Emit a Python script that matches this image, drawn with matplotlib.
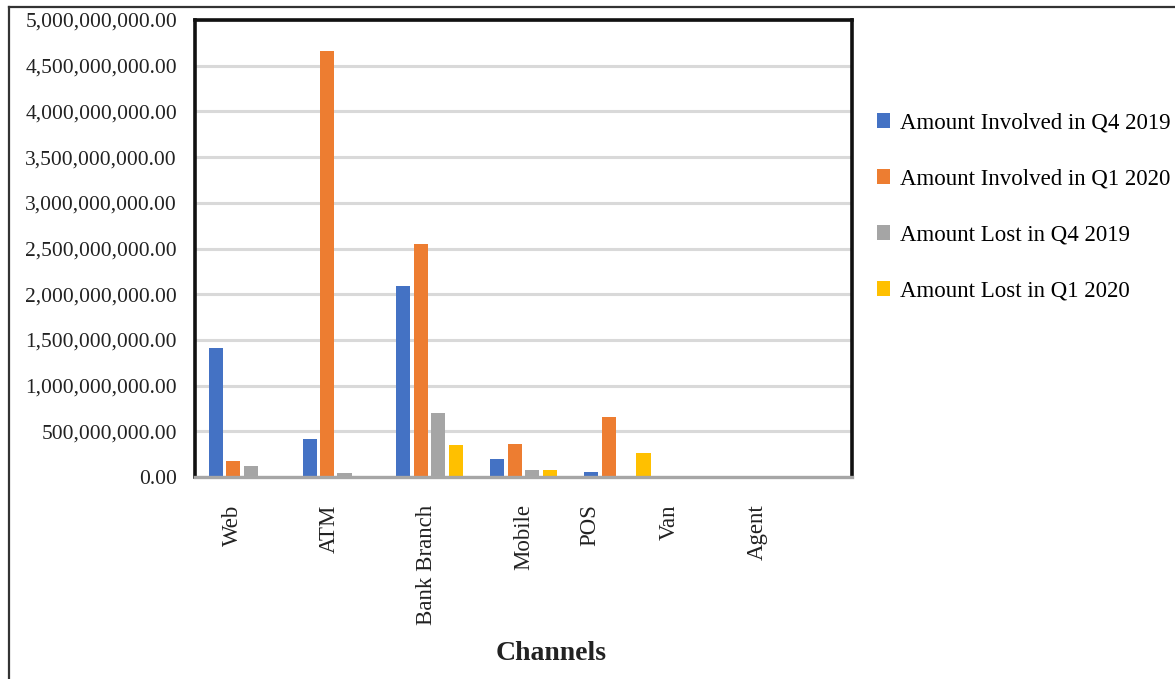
import numpy as np
import matplotlib
matplotlib.use("Agg")
import matplotlib.pyplot as plt
from matplotlib.lines import Line2D
from matplotlib.ticker import FuncFormatter, MultipleLocator

plt.rc('font', family='Liberation Serif')

channels = ["Web", "ATM", "Bank Branch", "Mobile", "POS", "Van", "Agent"]
series = [
    "Amount Involved in Q4 2019",
    "Amount Involved in Q1 2020",
    "Amount Lost in Q4 2019",
    "Amount Lost in Q1 2020",
]
involved_q4_2019 = [1.41e9, 0.415e9, 2.09e9, 0.20e9, 0.05e9, 0.0, 0.0]
involved_q1_2020 = [0.175e9, 4.66e9, 2.55e9, 0.36e9, 0.66e9, 0.0, 0.0]
lost_q4_2019 = [0.12e9, 0.045e9, 0.70e9, 0.08e9, 0.0, 0.0, 0.0]
lost_q1_2020 = [0.008e9, 0.006e9, 0.355e9, 0.075e9, 0.265e9, 0.0, 0.0]
colors = ["#4472C4", "#ED7D31", "#A5A5A5", "#FFC000"]

# tick labels sit a little off the group centres
label_shift = [-0.10, -0.07, -0.03, 0.0, -0.29, -0.45, -0.51]

fig = plt.figure(figsize=(11.75, 6.79), dpi=100)
ax = fig.add_axes([0.166, 0.2975, 0.559, 0.673])

x = np.arange(len(channels))
width = 0.15
step = 0.186
values = [involved_q4_2019, involved_q1_2020, lost_q4_2019, lost_q1_2020]
for k, (vals, c) in enumerate(zip(values, colors)):
    ax.bar(x + (k - 1.5) * step, vals, width, color=c, linewidth=0,
           label=series[k], zorder=3)

ax.set_xlim(-0.5, len(channels) - 0.5)
ax.set_ylim(0, 5e9)
ax.yaxis.set_major_locator(MultipleLocator(0.5e9))
ax.yaxis.set_major_formatter(FuncFormatter(lambda v, p: f"{v:,.2f}"))
ax.yaxis.grid(True, color="#d9d9d9", linewidth=2.2, zorder=0)
ax.tick_params(axis="y", length=0, pad=13, labelsize=15.5, labelcolor="#222222")
ax.set_xticks([])

for side in ["left", "top", "right"]:
    ax.spines[side].set_linewidth(2.6)
    ax.spines[side].set_color("#111111")
ax.spines["bottom"].set_color("#a6a6a6")
ax.spines["bottom"].set_linewidth(2.4)
ax.spines["bottom"].set_zorder(4)

for i, name in enumerate(channels):
    ax.text(x[i] + label_shift[i], -0.3e9, name, rotation=90, ha="center",
            va="top", fontsize=16.5, color="#222222")

fig.text(0.469, 0.038, "Channels", ha="center", va="center",
         fontsize=20, fontweight="bold", color="#222222")

ax.legend(loc="upper left", bbox_to_anchor=(1.025, 0.818), frameon=False,
          fontsize=16.5, handlelength=0.55, handleheight=0.6, handletextpad=0.45,
          labelspacing=1.53, borderaxespad=0)

# outer frame: only top and left edges fall inside the figure
fig.add_artist(Line2D([0.0075, 1.0], [0.9895, 0.9895], color="#333333", linewidth=1.6))
fig.add_artist(Line2D([0.0075, 0.0075], [0.0, 0.9895], color="#333333", linewidth=1.6))

fig.savefig("out.png", dpi=100)
